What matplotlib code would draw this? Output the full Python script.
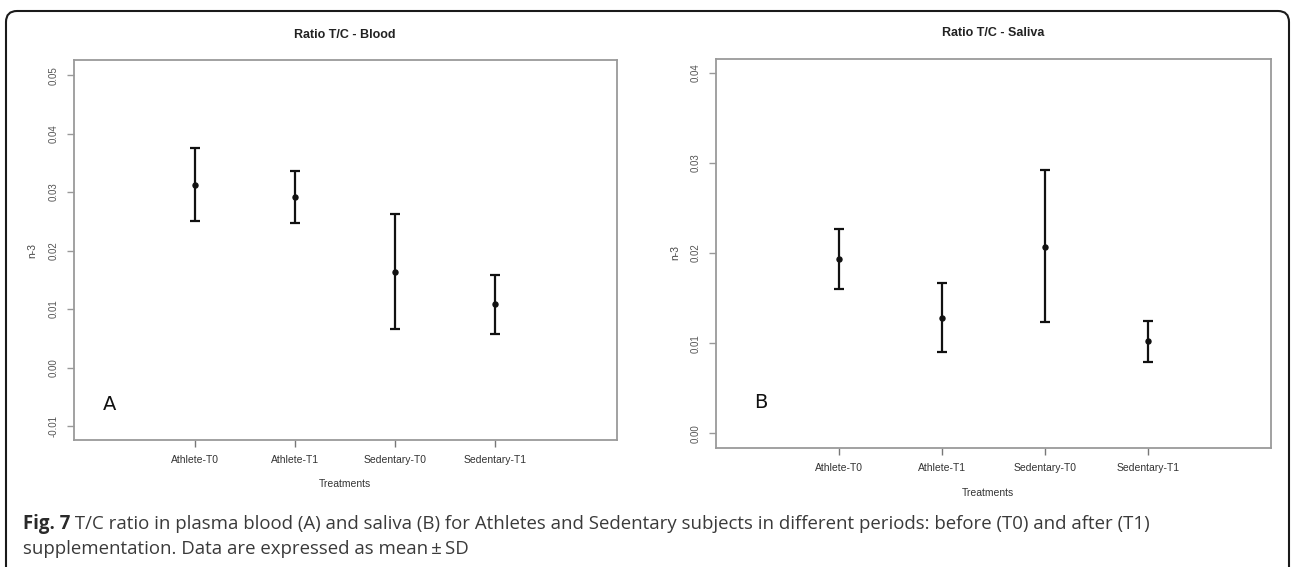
import matplotlib
matplotlib.use("Agg")
import matplotlib.pyplot as plt
from matplotlib.patches import FancyBboxPatch
from matplotlib.transforms import IdentityTransform
import numpy as np

# ---- data ----
categories = ["Athlete-T0", "Athlete-T1", "Sedentary-T0", "Sedentary-T1"]
blood_mean = [0.0313, 0.0292, 0.0164, 0.0108]
blood_low = [0.0250, 0.0247, 0.0066, 0.0057]
blood_high = [0.0376, 0.0336, 0.0262, 0.0158]
saliva_mean = [0.0193, 0.0128, 0.0207, 0.0102]
saliva_low = [0.0160, 0.0090, 0.0123, 0.0079]
saliva_high = [0.0227, 0.0167, 0.0292, 0.0125]
blood_yticks = [-0.01, 0.00, 0.01, 0.02, 0.03, 0.04, 0.05]
saliva_yticks = [0.00, 0.01, 0.02, 0.03, 0.04]
titles = ["Ratio T/C - Blood", "Ratio T/C - Saliva"]
panel_letters = ["A", "B"]
ylabel = "n-3"
xlabel = "Treatments"
caption_bold = "Fig. 7"
caption_line1 = " T/C ratio in plasma blood (A) and saliva (B) for Athletes and Sedentary subjects in different periods: before (T0) and after (T1)"
caption_line2 = "supplementation. Data are expressed as mean\u2009\u00b1\u2009SD"

W, H = 1292, 567
DPI = 100
fig = plt.figure(figsize=(W / DPI, H / DPI), dpi=DPI)
fig.patch.set_facecolor("white")

def fx(px):
    return px / W

def fy(py):
    return 1 - py / H

plot_font = ["Liberation Sans", "DejaVu Sans"]
tick_color = "#555555"
spine_color = "#9a9a9a"

panels = [
    dict(box=(74, 616.6, 60, 440), ylim=(-0.0124, 0.0526), yticks=blood_yticks,
         mean=blood_mean, low=blood_low, high=blood_high, xlim=(-0.21, 5.21),
         title_xy=(344.5, 35), ylabel_xy=(32, 250), xlabel_xy=(345, 484),
         letter_xy=(110, 405)),
    dict(box=(716, 1271, 59.3, 447.7), ylim=(-0.0016, 0.04149), yticks=saliva_yticks,
         mean=saliva_mean, low=saliva_low, high=saliva_high, xlim=(-0.2, 5.2),
         title_xy=(993, 33), ylabel_xy=(675, 253), xlabel_xy=(988, 493),
         letter_xy=(761, 403)),
]

for i, p in enumerate(panels):
    l, r, t, b = p["box"]
    ax = fig.add_axes([fx(l), fy(b), fx(r) - fx(l), fy(t) - fy(b)])
    x = np.arange(1, len(categories) + 1)
    mean = np.array(p["mean"])
    low = np.array(p["low"])
    high = np.array(p["high"])
    ax.errorbar(x, mean, yerr=[mean - low, high - mean], fmt="o", color="#111111",
                ms=3.6, elinewidth=1.6, capsize=3.8, capthick=1.6)
    ax.set_xlim(*p["xlim"])
    ax.set_ylim(*p["ylim"])
    ax.set_xticks(x)
    ax.set_xticklabels(categories, fontsize=7.5, color="#333333", family=plot_font)
    ax.set_yticks(p["yticks"])
    ax.set_yticklabels([f"{v:.2f}" for v in p["yticks"]], rotation=90, va="center",
                       fontsize=7, color=tick_color, family=plot_font)
    ax.tick_params(axis="x", length=5, width=1, color="#777777", pad=6)
    ax.tick_params(axis="y", length=5, width=1, color="#999999", pad=6)
    for s in ax.spines.values():
        s.set_color(spine_color)
        s.set_linewidth(1.3)
    fig.text(fx(p["title_xy"][0]), fy(p["title_xy"][1]), titles[i], ha="center",
             va="center", fontsize=9, fontweight="bold", color="#222222", family=plot_font)
    fig.text(fx(p["ylabel_xy"][0]), fy(p["ylabel_xy"][1]), ylabel, ha="center",
             va="center", rotation=90, fontsize=7.5, color="#444444", family=plot_font)
    fig.text(fx(p["xlabel_xy"][0]), fy(p["xlabel_xy"][1]), xlabel, ha="center",
             va="center", fontsize=7.5, color="#333333", family=plot_font)
    fig.text(fx(p["letter_xy"][0]), fy(p["letter_xy"][1]), panel_letters[i], ha="center",
             va="center", fontsize=14, color="#111111",
             family=["Liberation Sans Narrow", "DejaVu Sans"])

# ---- outer rounded frame (open at bottom) ----
frame = FancyBboxPatch((6, -40), 1289 - 6, (H - 11) + 40,
                       boxstyle="round,pad=0,rounding_size=11",
                       transform=IdentityTransform(), fill=False,
                       edgecolor="#1a1a1a", linewidth=1.5)
fig.patches.append(frame)

# ---- caption ----
cap_font = ["Liberation Sans Narrow", "Open Sans", "DejaVu Sans"]
cap_color = "#3a3a3a"
x0 = 23
fs = 13
renderer = fig.canvas.get_renderer()
tb = fig.text(fx(x0), fy(524), caption_bold, ha="left", va="center", fontsize=fs,
              fontweight="bold", color="#2a2a2a", family=cap_font)
t1 = fig.text(0, fy(524), caption_line1, ha="left", va="center", fontsize=fs,
              color=cap_color, family=cap_font)
t2 = fig.text(fx(x0), fy(549), caption_line2, ha="left", va="center", fontsize=fs,
              color=cap_color, family=cap_font)
# fit caption line 1 to target width
target = 1148 - x0
for _ in range(3):
    wb = tb.get_window_extent(renderer).width
    w1 = t1.get_window_extent(renderer).width
    scale = target / (wb + w1)
    fs = fs * scale
    for t in (tb, t1, t2):
        t.set_fontsize(fs)
wb = tb.get_window_extent(renderer).width
t1.set_x(fx(x0 + wb))

fig.savefig("out.png", dpi=DPI)
